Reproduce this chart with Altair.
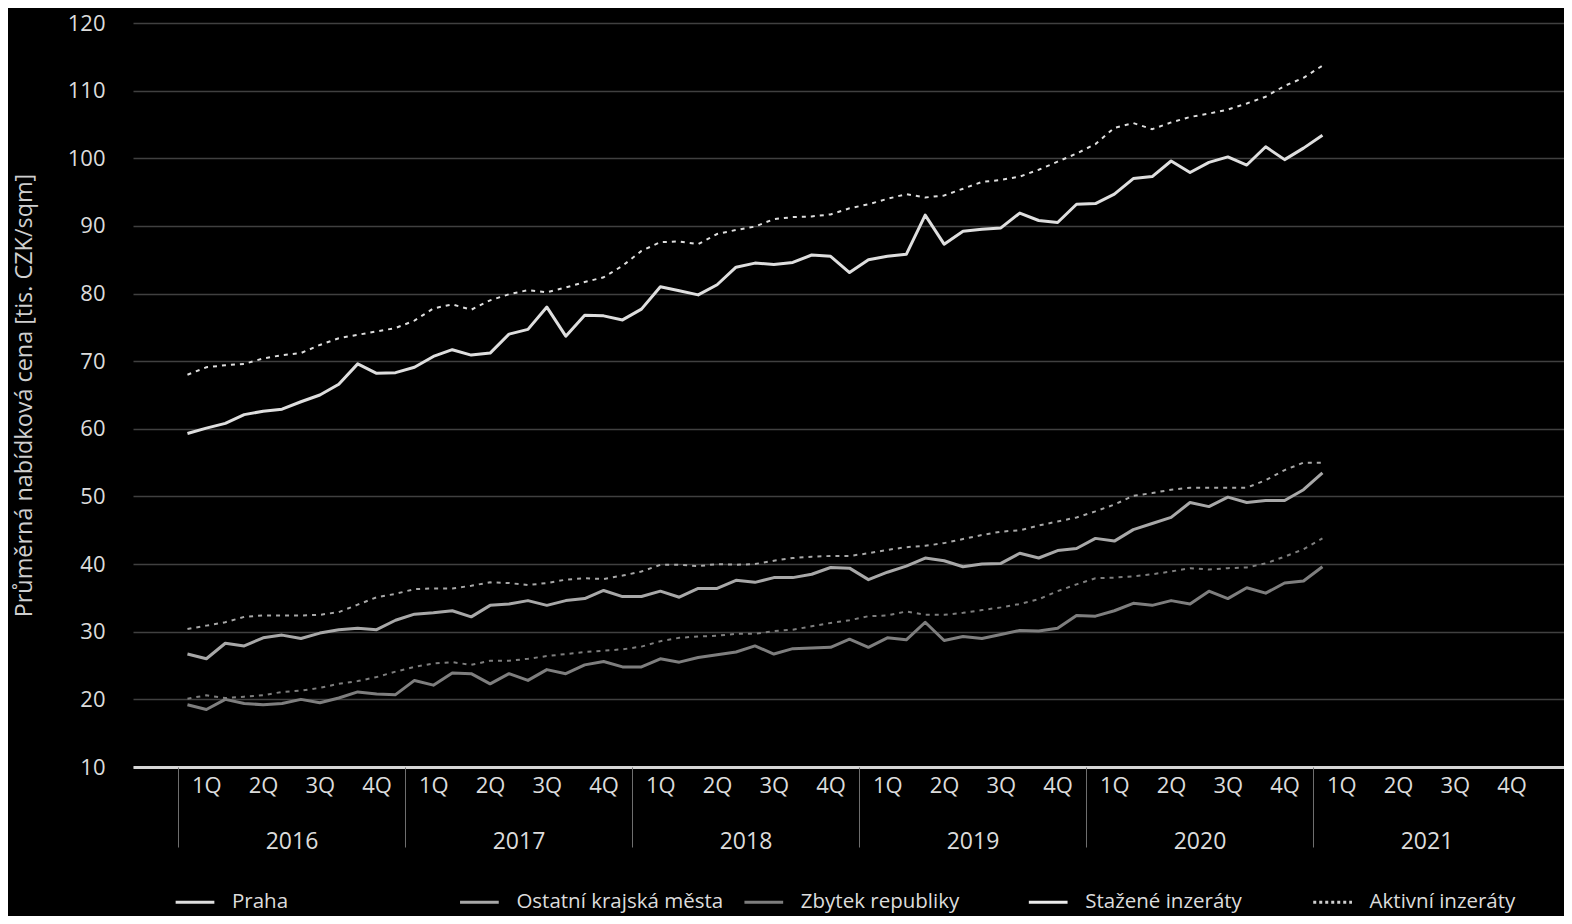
import altair as alt
import pandas as pd

# ---- data (monthly, Jan 2016 .. Jan 2021) ----
months = [f"{2016 + i // 12}-{i % 12 + 1:02d}" for i in range(61)]

praha_stazene = [59.3, 60.1, 60.8, 62.1, 62.6, 62.9, 64.0, 65.0, 66.6, 69.6, 68.2, 68.3,
                 69.1, 70.7, 71.7, 70.9, 71.2, 74.0, 74.7, 78.0, 73.7, 76.8, 76.7, 76.1,
                 77.7, 81.0, 80.4, 79.8, 81.3, 83.9, 84.5, 84.3, 84.6, 85.7, 85.5, 83.1,
                 85.0, 85.5, 85.8, 91.6, 87.3, 89.2, 89.5, 89.7, 91.9, 90.8, 90.5, 93.2,
                 93.3, 94.7, 97.0, 97.3, 99.6, 97.9, 99.4, 100.2, 99.0, 101.7, 99.8, 101.5,
                 103.4]
praha_aktivni = [68.0, 69.1, 69.4, 69.6, 70.4, 70.9, 71.2, 72.4, 73.4, 73.9, 74.4, 74.9,
                 76.0, 77.8, 78.4, 77.6, 79.0, 79.9, 80.5, 80.2, 80.9, 81.7, 82.4, 84.1,
                 86.3, 87.6, 87.7, 87.3, 88.8, 89.4, 89.9, 91.0, 91.3, 91.4, 91.7, 92.6,
                 93.2, 94.0, 94.7, 94.2, 94.5, 95.5, 96.5, 96.8, 97.3, 98.3, 99.5, 100.7,
                 102.1, 104.5, 105.2, 104.3, 105.3, 106.1, 106.6, 107.2, 108.1, 109.1, 110.7, 111.9,
                 113.7]
ostatni_stazene = [26.7, 26.0, 28.3, 27.9, 29.1, 29.5, 29.0, 29.8, 30.3, 30.5, 30.3, 31.7,
                   32.6, 32.8, 33.1, 32.2, 33.9, 34.1, 34.6, 33.9, 34.6, 34.9, 36.1, 35.2,
                   35.2, 36.0, 35.1, 36.4, 36.4, 37.6, 37.3, 38.0, 38.0, 38.5, 39.5, 39.4,
                   37.7, 38.8, 39.7, 40.9, 40.5, 39.6, 40.0, 40.1, 41.6, 40.9, 42.0, 42.3,
                   43.8, 43.4, 45.1, 46.0, 46.9, 49.1, 48.5, 49.9, 49.1, 49.4, 49.4, 51.0,
                   53.5]
ostatni_aktivni = [30.4, 30.9, 31.4, 32.2, 32.4, 32.4, 32.4, 32.5, 32.9, 34.0, 35.1, 35.6,
                   36.3, 36.4, 36.4, 36.8, 37.3, 37.2, 36.9, 37.2, 37.7, 37.9, 37.8, 38.3,
                   38.9, 39.9, 39.9, 39.7, 40.0, 39.9, 40.0, 40.5, 40.9, 41.1, 41.2, 41.2,
                   41.6, 42.1, 42.5, 42.7, 43.1, 43.7, 44.3, 44.8, 45.0, 45.7, 46.3, 46.9,
                   47.8, 48.8, 50.1, 50.5, 51.0, 51.3, 51.3, 51.3, 51.3, 52.4, 53.9, 55.0,
                   55.0]
zbytek_stazene = [19.2, 18.5, 20.0, 19.4, 19.2, 19.4, 20.0, 19.5, 20.2, 21.1, 20.8, 20.7,
                  22.8, 22.1, 23.9, 23.8, 22.3, 23.8, 22.8, 24.4, 23.8, 25.1, 25.6, 24.8,
                  24.8, 26.0, 25.5, 26.2, 26.6, 27.0, 27.9, 26.7, 27.5, 27.6, 27.7, 28.9,
                  27.7, 29.1, 28.8, 31.4, 28.7, 29.3, 29.0, 29.6, 30.2, 30.1, 30.5, 32.4,
                  32.3, 33.1, 34.2, 33.9, 34.6, 34.1, 36.0, 34.9, 36.5, 35.7, 37.2, 37.5,
                  39.6]
zbytek_aktivni = [20.1, 20.6, 20.2, 20.4, 20.6, 21.1, 21.3, 21.7, 22.3, 22.7, 23.3, 24.1,
                  24.8, 25.3, 25.5, 25.1, 25.7, 25.7, 26.0, 26.4, 26.7, 27.0, 27.2, 27.4,
                  27.8, 28.6, 29.1, 29.3, 29.4, 29.7, 29.7, 30.1, 30.3, 30.8, 31.3, 31.7,
                  32.3, 32.4, 33.0, 32.5, 32.5, 32.8, 33.2, 33.6, 34.1, 34.8, 36.0, 37.0,
                  37.9, 38.0, 38.2, 38.5, 38.9, 39.4, 39.2, 39.4, 39.5, 40.1, 41.1, 42.2,
                  43.8]

regions = ["Praha", "Ostatní krajská města", "Zbytek republiky"]
types = ["Stažené inzeráty", "Aktivní inzeráty"]
legend_labels = regions + types
legend_colors = ["#dedede", "#a8a8a8", "#7e7e7e", "#ececec", "#cfcfcf"]

years = [2016, 2017, 2018, 2019, 2020, 2021]
quarters = ["1Q", "2Q", "3Q", "4Q"]
y_ticks = [10, 20, 30, 40, 50, 60, 70, 80, 90, 100, 110, 120]

series = {
    ("Praha", "Stažené inzeráty"): praha_stazene,
    ("Praha", "Aktivní inzeráty"): praha_aktivni,
    ("Ostatní krajská města", "Stažené inzeráty"): ostatni_stazene,
    ("Ostatní krajská města", "Aktivní inzeráty"): ostatni_aktivni,
    ("Zbytek republiky", "Stažené inzeráty"): zbytek_stazene,
    ("Zbytek republiky", "Aktivní inzeráty"): zbytek_aktivni,
}

rows = []
for (reg, typ), vals in series.items():
    for i, v in enumerate(vals):
        rows.append({"month": months[i], "t": i + 0.5, "region": reg, "typ": typ, "value": v})
df = pd.DataFrame(rows)

# axis helpers (months from start of 2016)
quarter_centers = [1.5 + 3 * k for k in range(len(years) * 4)]
year_starts = [12 * k for k in range(len(years))]

FONT = "Open Sans"
TXT = "#dcdcdc"

x_scale = alt.Scale(domain=[-2.379, 73.27], nice=False, zero=False)
y_scale = alt.Scale(domain=[10, 120], nice=False, zero=False)
color_scale = alt.Scale(domain=legend_labels, range=legend_colors)

y_enc = alt.Y(
    "value:Q", scale=y_scale,
    axis=alt.Axis(values=y_ticks, title="Průměrná nabídková cena [tis. CZK/sqm]",
                  grid=True, gridColor="#404040", gridWidth=1.5, domain=False, ticks=False,
                  labelFontSize=22, labelColor=TXT, labelPadding=28, labelFont=FONT,
                  titleFontSize=23.4, titleColor="#cfcfcf", titleFontWeight="normal",
                  titleFont=FONT, titlePadding=31),
)

color_enc = alt.Color(
    "region:N", scale=color_scale,
    legend=alt.Legend(
        title=None, orient="none", legendX=41, legendY=858, direction="horizontal",
        columns=5, gridAlign="all", columnPadding=14.4, symbolType="stroke",
        symbolSize=1500, symbolStrokeWidth=3, labelFontSize=20.5, labelColor=TXT,
        labelFont=FONT, labelOffset=16, labelLimit=400,
        symbolDash={"expr": "datum.label == 'Aktivní inzeráty' ? [3, 3] : [1, 0]"},
    ),
)

base = alt.Chart(df)

solid = base.transform_filter(alt.datum.typ == "Stažené inzeráty").mark_line(
    strokeWidth=3, strokeJoin="round"
).encode(
    x=alt.X("t:Q", scale=x_scale,
            axis=alt.Axis(orient="bottom", values=quarter_centers, title=None,
                          labelExpr="(floor(datum.value / 3) % 4 + 1) + 'Q'",
                          ticks=False, grid=False, domain=True, domainColor="#d6d6d6",
                          domainWidth=3, labelPadding=8, labelFontSize=22, labelColor=TXT,
                          labelFont=FONT, labelFlush=False, labelOverlap=False)),
    y=y_enc,
    color=color_enc,
    detail="region:N",
)

dotted = base.transform_filter(alt.datum.typ == "Aktivní inzeráty").mark_line(
    strokeWidth=2, strokeDash=[4, 5]
).encode(
    x=alt.X("t:Q", scale=x_scale,
            axis=alt.Axis(orient="bottom", values=year_starts, title=None,
                          labelExpr="2016 + datum.value / 12", labelOffset=113.5,
                          ticks=True, tickSize=80, tickColor="#6e6e6e", tickWidth=1,
                          grid=False, domain=False, labelPadding=-17, labelFontSize=23,
                          labelColor=TXT, labelFont=FONT, labelFlush=False,
                          labelOverlap=False)),
    y=y_enc,
    color=color_enc,
    detail="region:N",
)

chart = alt.layer(solid, dotted).resolve_axis(x="independent").properties(
    width=1431, height=744,
    autosize=alt.AutoSizeParams(type="none"),
    padding={"left": 125, "top": 15, "right": 0, "bottom": 149},
).configure(background="black", font=FONT).configure_view(stroke=None)

chart.save("out.html", embed_options={"renderer": "svg", "actions": False})
